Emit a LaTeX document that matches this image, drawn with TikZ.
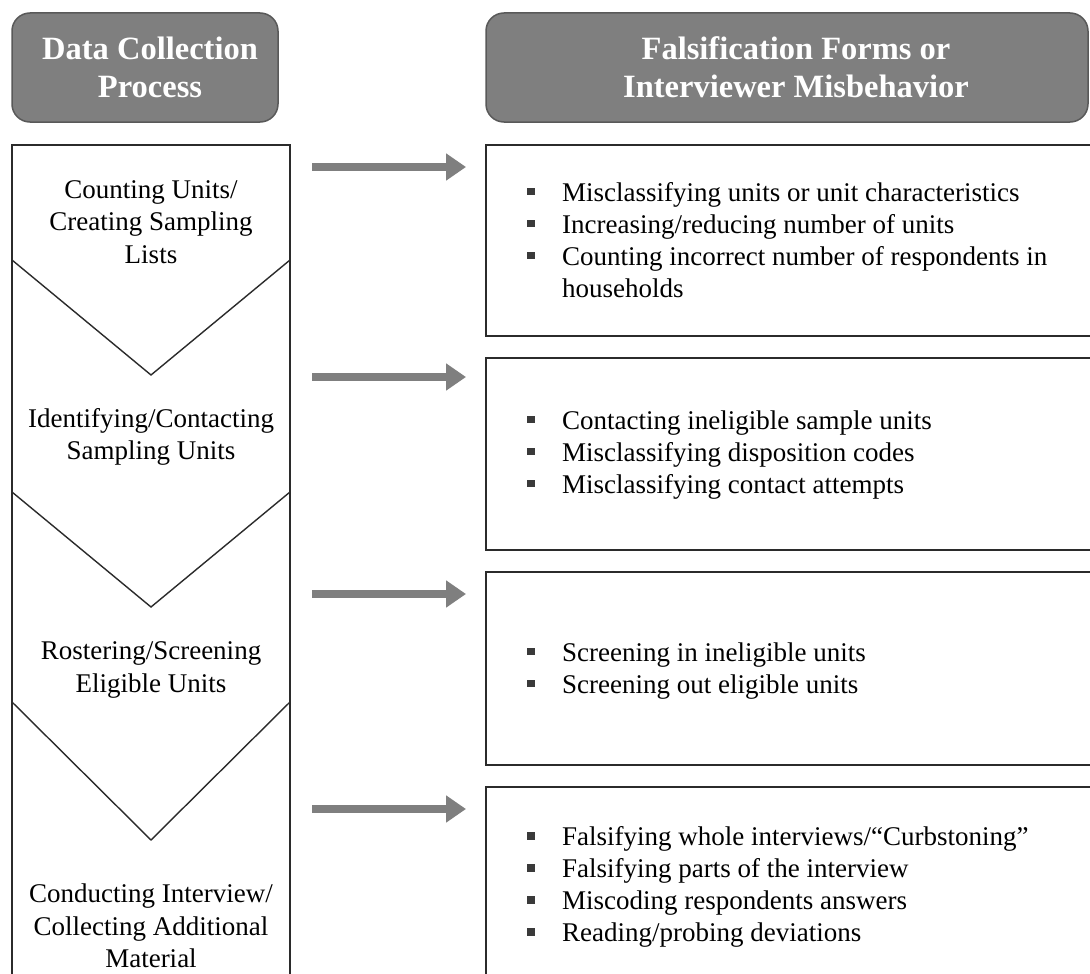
\documentclass[tikz,border=0pt]{standalone}
\usepackage{fontspec}
\setmainfont{Liberation Serif}
\usetikzlibrary{arrows.meta}
\definecolor{headfill}{HTML}{7F7F7F}
\definecolor{headline}{HTML}{595959}
\definecolor{arrowgray}{HTML}{7F7F7F}
\definecolor{boxline}{HTML}{2B2B2B}
\definecolor{bulgray}{HTML}{3A3A3A}
\newcommand{\bul}{\makebox[35pt][l]{\textcolor{bulgray}{\rule[6pt]{7.5pt}{7.5pt}}}}
\newcommand{\cont}{\hspace*{35pt}}
\tikzset{
  header/.style={draw=headline, line width=1.5pt, fill=headfill, rounded corners=18pt},
  headtext/.style={text=white, font=\fontsize{32.5}{38}\selectfont\bfseries, align=center},
  frame/.style={draw=boxline, line width=1.4pt},
  steptext/.style={font=\fontsize{27}{32.5}\selectfont, align=center, text=black},
  listtext/.style={font=\fontsize{27}{32}\selectfont, align=left, anchor=west, inner sep=0pt},
  flowarrow/.style={draw=arrowgray, line width=8pt, -{Triangle[length=20pt,width=26pt]}, shorten >=0pt},
}
\begin{document}
\begin{tikzpicture}[x=1pt,y=-1pt]
\useasboundingbox (0,0) rectangle (1090,974);
\clip (0,0) rectangle (1090,974);
\fill[white] (0,0) rectangle (1090,974);

% column headers
\node[header, minimum width=266pt, minimum height=109pt] (hleft) at (145,67.5) {};
\node[headtext] (hlefttext) at ([xshift=5pt]hleft.center) {Data Collection\\Process};
\node[header, minimum width=602pt, minimum height=109pt] (hright) at (787,67.5) {};
\node[headtext] (hrighttext) at ([xshift=9pt]hright.center) {Falsification Forms or\\Interviewer Misbehavior};

% process column with chevron separators
\draw[frame] (12,990) -- (12,145) -- (290,145) -- (290,990);
\draw[frame] (12,260) -- (151,375) -- (290,260);
\draw[frame] (12,492) -- (151,607) -- (290,492);
\draw[frame] (12,702) -- (151,840) -- (290,702);

\node[steptext] (s1) at (151,222) {Counting Units/\\Creating Sampling\\Lists};
\node[steptext] (s2) at (151,437) {Identifying/Contacting\\Sampling Units};
\node[steptext] (s3) at (151,670) {Rostering/Screening\\Eligible Units};
\node[steptext] (s4) at (151,926) {Conducting Interview/\\Collecting Additional\\Material};

% falsification boxes
\draw[frame] (1100,145) -- (486,145) -- (486,336) -- (1100,336);
\draw[frame] (1100,358) -- (486,358) -- (486,550) -- (1100,550);
\draw[frame] (1100,572) -- (486,572) -- (486,765) -- (1100,765);
\draw[frame] (486,990) -- (486,787) -- (1100,787);

\node[listtext] (f1) at (527,240) {\bul Misclassifying units or unit characteristics\\
  \bul Increasing/reducing number of units\\
  \bul Counting incorrect number of respondents in\\
  \cont households};
\node[listtext] (f2) at (527,455) {\bul Contacting ineligible sample units\\
  \bul Misclassifying disposition codes\\
  \bul Misclassifying contact attempts};
\node[listtext] (f3) at (527,671) {\bul Screening in ineligible units\\
  \bul Screening out eligible units};
\node[listtext] (f4) at (527,887) {\bul Falsifying whole interviews/``Curbstoning''\\
  \bul Falsifying parts of the interview\\
  \bul Miscoding respondents answers\\
  \bul Reading/probing deviations};

% arrows from process steps to falsification forms
\coordinate (a1s) at (312,167); \coordinate (a1e) at (466,167);
\coordinate (a2s) at (312,377); \coordinate (a2e) at (466,377);
\coordinate (a3s) at (312,594); \coordinate (a3e) at (466,594);
\coordinate (a4s) at (312,809); \coordinate (a4e) at (466,809);
\draw[flowarrow] (a1s) -- (a1e);
\draw[flowarrow] (a2s) -- (a2e);
\draw[flowarrow] (a3s) -- (a3e);
\draw[flowarrow] (a4s) -- (a4e);
\end{tikzpicture}
\end{document}
